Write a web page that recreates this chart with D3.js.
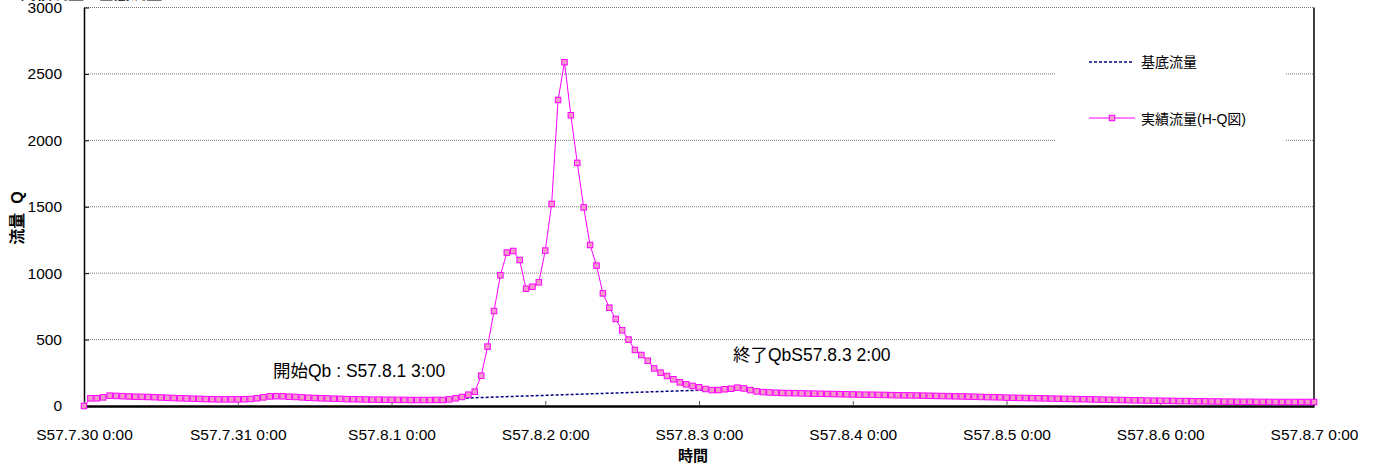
<!DOCTYPE html>
<html>
<head>
<meta charset="utf-8">
<script src="https://cdn.jsdelivr.net/npm/d3@7"></script>
<style>
  body { margin: 0; background: #fff; }
  svg { display: block; }
  text { font-family: "Liberation Sans", Arial, "Noto Sans CJK JP", sans-serif; }
</style>
</head>
<body>
<svg id="chart" width="1377" height="470"></svg>
<script>
// ---- data (hourly from S57.7.30 0:00) ----
const hours = d3.range(0, 193); // hour index 0..192
const flowValues = [
  0, 58, 58, 65, 78, 76, 74, 72, 70, 69, 68, 66,
  64, 62, 60, 58, 57, 55, 54, 52, 51, 50, 50, 50,
  50, 51, 53, 58, 65, 72, 74, 73, 70, 68, 65, 62,
  60, 58, 57, 55, 54, 52, 51, 50, 49, 48, 48, 47,
  47, 46, 46, 45, 45, 45, 45, 46, 45, 50, 58, 68,
  85, 108, 228, 447, 715, 984, 1155, 1167, 1099, 883, 898, 931,
  1170, 1521, 2304, 2588, 2189, 1830, 1495, 1212, 1057, 848, 740, 655,
  570, 500, 422, 384, 341, 283, 251, 226, 201, 178, 163, 151,
  141, 128, 120, 120, 126, 130, 138, 132, 120, 110, 105, 102,
  100, 98, 97, 96, 95, 94, 93, 92, 91, 90, 89, 88,
  87, 86, 85, 85, 84, 83, 82, 81, 80, 80, 79, 78,
  77, 76, 75, 74, 73, 72, 71, 70, 68, 67, 66, 65,
  63, 62, 61, 60, 59, 58, 57, 56, 55, 54, 53, 52,
  51, 50, 49, 48, 47, 46, 45, 44, 43, 42, 41, 40,
  40, 39, 38, 37, 37, 36, 35, 35, 34, 34, 33, 33,
  32, 32, 32, 31, 31, 31, 30, 30, 30, 30, 30, 30, 30
];
const baseHours = [51, 98];
const baseValues = [46, 122];
const xTickHours = [0, 24, 48, 72, 96, 120, 144, 168, 192];
const xTickLabels = ["S57.7.30 0:00", "S57.7.31 0:00", "S57.8.1 0:00", "S57.8.2 0:00",
  "S57.8.3 0:00", "S57.8.4 0:00", "S57.8.5 0:00", "S57.8.6 0:00", "S57.8.7 0:00"];
const yTicks = [0, 500, 1000, 1500, 2000, 2500, 3000];
const seriesNames = ["基底流量", "実績流量(H-Q図)"];
const annStart = "開始Qb : S57.8.1 3:00";
const annEnd = "終了QbS57.8.3 2:00";

// ---- layout ----
const L = 84, R = 1314, T = 7.5, B = 406;
const svg = d3.select("#chart");
const x = d3.scaleLinear().domain([0, 192]).range([L, R]);
const y = d3.scaleLinear().domain([0, 3000]).range([B, T]);

// title (cut off at top in original)
svg.append("text").attr("x", 20).attr("y", -1).attr("font-size", 16).attr("font-weight", "bold")
  .attr("fill", "#000").text("実績流量 - 基底流量");

// gridlines
svg.append("g").selectAll("line").data(yTicks.filter(d => d > 0)).join("line")
  .attr("x1", L).attr("x2", R).attr("y1", d => y(d)).attr("y2", d => y(d))
  .attr("stroke", "#777").attr("stroke-width", 1).attr("stroke-dasharray", "1,1");

// legend background box (hides gridlines)
svg.append("rect").attr("x", 1055).attr("y", 35).attr("width", 230).attr("height", 130).attr("fill", "#fff");

// axes
const yAxis = d3.axisLeft(y).tickValues(yTicks).tickFormat(d3.format("d"))
  .tickSizeInner(-5).tickSizeOuter(0).tickPadding(22);
const gy = svg.append("g").attr("transform", `translate(${L},0)`).call(yAxis);
gy.select(".domain").attr("stroke", "#000").attr("stroke-width", 1.5);
gy.selectAll(".tick line").attr("stroke", "#000");
gy.selectAll(".tick text").attr("font-size", 15.5).attr("fill", "#000")
  .attr("font-family", "'Liberation Sans', Arial, sans-serif");

const xAxis = d3.axisBottom(x).tickValues(xTickHours).tickFormat((d, i) => xTickLabels[i])
  .tickSizeInner(-5).tickSizeOuter(0).tickPadding(23);
const gx = svg.append("g").attr("transform", `translate(0,${B})`).call(xAxis);
gx.select(".domain").attr("stroke", "#000").attr("stroke-width", 2.5);
gx.selectAll(".tick line").attr("stroke", "#555");
gx.selectAll(".tick text").attr("font-size", 15.5).attr("fill", "#000")
  .attr("font-family", "'Liberation Sans', Arial, sans-serif");

// right border
svg.append("line").attr("x1", R).attr("x2", R).attr("y1", T).attr("y2", B)
  .attr("stroke", "#000").attr("stroke-width", 1.5);

// axis titles
svg.append("text").attr("transform", `translate(23,218) rotate(-90)`).attr("text-anchor", "middle")
  .attr("font-size", 16).attr("font-weight", "bold").attr("fill", "#000")
  .attr("xml:space", "preserve").text("流量  Q");
svg.append("text").attr("x", 693).attr("y", 461).attr("text-anchor", "middle")
  .attr("font-size", 15).attr("font-weight", "bold").attr("fill", "#000").text("時間");

// baseline (dashed)
const baseData = baseHours.map((h, i) => ({ h, v: baseValues[i] }));
svg.append("path").datum(baseData)
  .attr("d", d3.line().x(d => x(d.h)).y(d => y(d.v)))
  .attr("fill", "none").attr("stroke", "#000080").attr("stroke-width", 1.5).attr("stroke-dasharray", "3,2");

// flow series
const flowData = hours.map((h, i) => ({ h, v: flowValues[i] }));
svg.append("path").datum(flowData)
  .attr("d", d3.line().x(d => x(d.h)).y(d => y(d.v)))
  .attr("fill", "none").attr("stroke", "#ff00ff").attr("stroke-width", 1);
svg.append("g").selectAll("rect").data(flowData).join("rect")
  .attr("x", d => x(d.h) - 2.75).attr("y", d => y(d.v) - 2.75)
  .attr("width", 5.5).attr("height", 5.5)
  .attr("fill", "#f49ac8").attr("stroke", "#ff00ff").attr("stroke-width", 1);

// annotations
svg.append("text").attr("x", 273).attr("y", 377).attr("font-size", 17.5).attr("fill", "#000")
  .attr("xml:space", "preserve").text(annStart);
svg.append("text").attr("x", 733).attr("y", 361).attr("font-size", 17.5).attr("fill", "#000").text(annEnd);

// legend
const lg = svg.append("g");
lg.append("line").attr("x1", 1089).attr("x2", 1133).attr("y1", 62).attr("y2", 62)
  .attr("stroke", "#000080").attr("stroke-width", 1.5).attr("stroke-dasharray", "3,2");
lg.append("text").attr("x", 1141).attr("y", 67).attr("font-size", 14).attr("fill", "#000").text(seriesNames[0]);
lg.append("line").attr("x1", 1089).attr("x2", 1135).attr("y1", 118).attr("y2", 118)
  .attr("stroke", "#ff00ff").attr("stroke-width", 1);
lg.append("rect").attr("x", 1112 - 2.75).attr("y", 118 - 2.75).attr("width", 5.5).attr("height", 5.5)
  .attr("fill", "#f49ac8").attr("stroke", "#ff00ff").attr("stroke-width", 1);
lg.append("text").attr("x", 1141).attr("y", 124).attr("font-size", 14).attr("fill", "#000").text(seriesNames[1]);
</script>
</body>
</html>
